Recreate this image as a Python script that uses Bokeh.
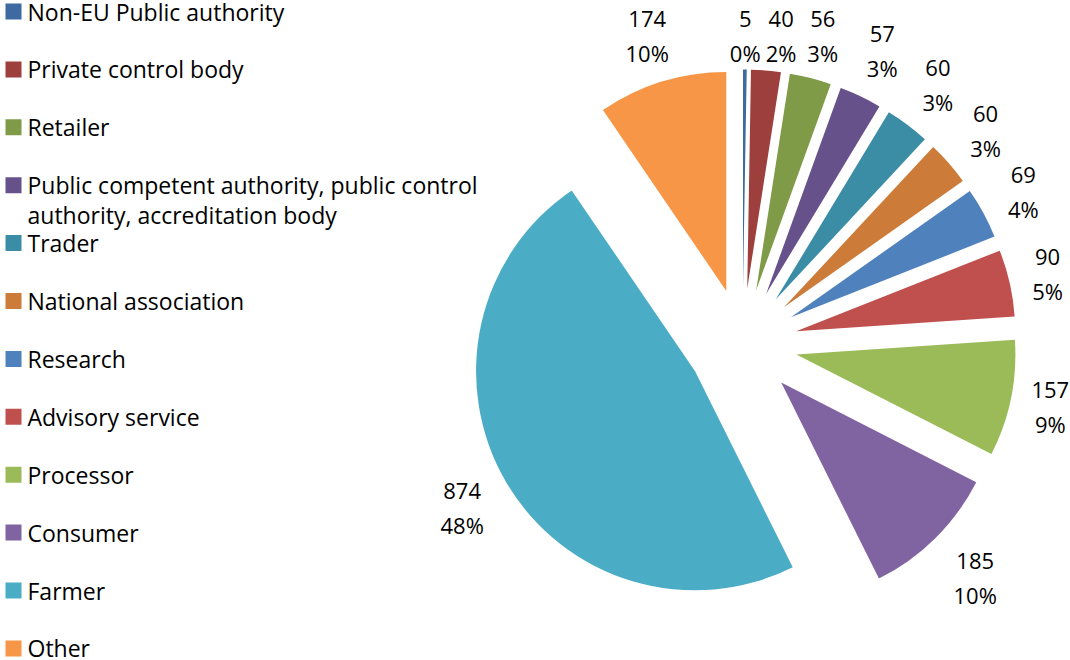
import math
from bokeh.plotting import figure
from bokeh.models import Range1d, ColumnDataSource
from bokeh.core.properties import value
from bokeh.embed import file_html
from bokeh.resources import INLINE

# ---- data ----
categories = [
    "Non-EU Public authority",
    "Private control body",
    "Retailer",
    "Public competent authority, public control\nauthority, accreditation body",
    "Trader",
    "National association",
    "Research",
    "Advisory service",
    "Processor",
    "Consumer",
    "Farmer",
    "Other",
]
counts = [5, 40, 56, 57, 60, 60, 69, 90, 157, 185, 874, 174]
colors = [
    "#3D6AA0", "#9D3F3C", "#7F9B48", "#67518A", "#3B8DA5", "#CC7B38",
    "#4F81BD", "#C0504D", "#9BBB59", "#8064A2", "#4BACC6", "#F79646",
]

# ---- layout ----
W, H = 1070, 660
CX, CY = 742, H - 343      # pie centre (data coords, y up)
R = 219                    # pie radius
EXPLODE = 55               # explosion distance
FONT = "Open Sans"
LABEL_PX = 22
LEGEND_PX = 23

total = sum(counts)


def text_w(s, px):
    return sum(0.834 if ch == "%" else 0.572 for ch in s) * px


p = figure(width=W, height=H, x_range=Range1d(0, W), y_range=Range1d(0, H),
           output_backend="svg", toolbar_location=None, min_border=0,
           x_axis_location=None, y_axis_location=None,
           outline_line_color=None, background_fill_color="white",
           border_fill_color="white")
p.xgrid.visible = False
p.ygrid.visible = False

# wedges, clockwise from 12 o'clock
xs, ys, starts, ends = [], [], [], []
lab_x, lab_y, lab_w, vals, pcts = [], [], [], [], []
cum = 0
for c in counts:
    a0 = cum / total * 2 * math.pi          # clockwise angle from top
    a1 = (cum + c) / total * 2 * math.pi
    cum += c
    mid = (a0 + a1) / 2
    ux, uy = math.sin(mid), math.cos(mid)   # data direction (y up)
    xs.append(CX + EXPLODE * ux)
    ys.append(CY + EXPLODE * uy)
    starts.append(math.pi / 2 - a1)
    ends.append(math.pi / 2 - a0)
    v = str(c)
    pc = f"{round(100 * c / total)}%"
    bw = max(text_w(v, LABEL_PX), text_w(pc, LABEL_PX))
    bh, gap = 66, 12
    dist = (R + EXPLODE + gap + abs(ux) * 40 / 2 + abs(uy) * bh / 2
            + 10 * max(0.0, -uy))
    lx = CX + dist * ux
    ly = min(CY + dist * uy, H - 35)
    # avoid overlapping the previous label
    if lab_x:
        px_, py_, pw_ = lab_x[-1], lab_y[-1], lab_w[-1]
        if abs(ly - py_) < bh and lx - px_ < (bw + pw_) / 2 + 5:
            lx = px_ + (bw + pw_) / 2 + 5
    lab_x.append(lx)
    lab_y.append(ly)
    lab_w.append(bw)
    vals.append(v)
    pcts.append(pc)

src = ColumnDataSource(dict(x=xs, y=ys, start=starts, end=ends, color=colors))
p.wedge(x="x", y="y", radius=R, start_angle="start", end_angle="end",
        fill_color="color", line_color=None, source=src)

lsrc = ColumnDataSource(dict(x=lab_x, y1=[y + 17 for y in lab_y],
                             y2=[y - 17 for y in lab_y], v=vals, pc=pcts))
for ycol, tcol in (("y1", "v"), ("y2", "pc")):
    p.text(x="x", y=ycol, text=tcol, source=lsrc, text_font=value(FONT),
           text_font_size=f"{LABEL_PX}px", text_align="center",
           text_baseline="middle", text_color="#000000")

# legend
leg_sq_x, leg_sq_y, leg_tx, leg_ty, leg_txt = [], [], [], [], []
for i, name in enumerate(categories):
    yc = H - (11 + 57.9 * i)
    leg_sq_x.append(13)
    leg_sq_y.append(yc)
    for j, line in enumerate(name.split("\n")):
        leg_tx.append(27)
        leg_ty.append(yc - 30 * j)
        leg_txt.append(line)

p.rect(x=leg_sq_x, y=leg_sq_y, width=16, height=16, width_units="screen",
       height_units="screen", fill_color=colors, line_color=None)
p.text(x=leg_tx, y=leg_ty, text=leg_txt, text_font=value(FONT),
       text_font_size=f"{LEGEND_PX}px", text_align="left",
       text_baseline="middle", text_color="#000000")

open("out.html", "w").write(file_html(p, INLINE))
